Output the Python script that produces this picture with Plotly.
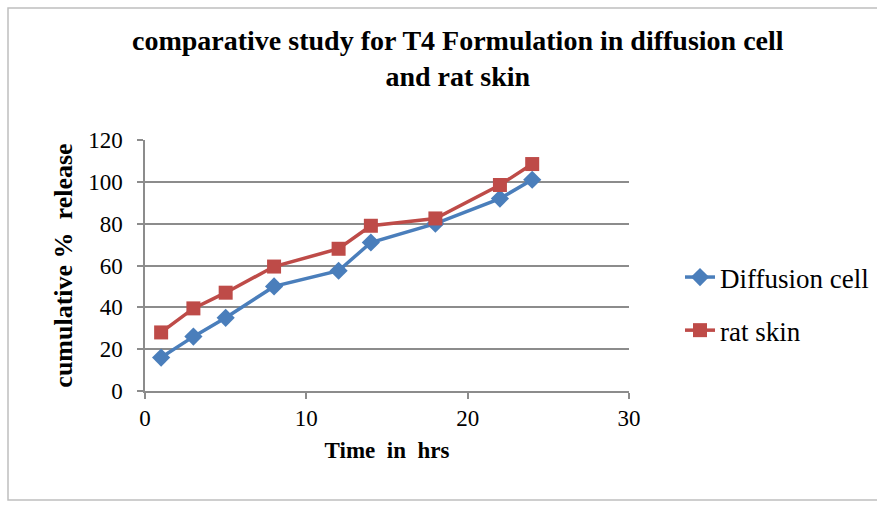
import plotly.graph_objects as go

time_hrs = [1, 3, 5, 8, 12, 14, 18, 22, 24]
diffusion_cell = [16, 26, 35, 50, 57.5, 71, 80, 92, 101]
rat_skin = [28, 39.5, 47, 59.5, 68, 79, 82.5, 98.5, 108.5]
x_ticks = [0, 10, 20, 30]
y_ticks = [0, 20, 40, 60, 80, 100, 120]

W, H = 877, 508
L, R, T, B = 145, 629, 140, 391
pw, ph = R - L, B - T

def px(x):
    return (x - L) / pw

def py(y):
    return (B - y) / ph

fig = go.Figure()
fig.add_trace(go.Scatter(
    x=time_hrs, y=diffusion_cell, name="Diffusion cell", mode="lines+markers",
    line=dict(color="#4a7ebb", width=3.5),
    marker=dict(symbol="diamond", size=14, color="#4a7ebb"),
    legendgroup="a"))
fig.add_trace(go.Scatter(
    x=time_hrs, y=rat_skin, name="rat skin", mode="lines+markers",
    line=dict(color="#be4b48", width=3.5),
    marker=dict(symbol="square", size=14, color="#be4b48"),
    legendgroup="b"))

font = "Liberation Serif, Times New Roman, serif"

fig.update_layout(
    width=W, height=H,
    margin=dict(l=L, r=W - R, t=T, b=H - B, autoexpand=False),
    paper_bgcolor="white", plot_bgcolor="white",
    font=dict(family=font, color="black", size=22),
    title=dict(
        text="<b>comparative study for T4 Formulation in diffusion cell<br>and rat skin</b>",
        x=0.522, xanchor="center", y=1 - 50 / H, yanchor="top",
        font=dict(family=font, size=28, color="black")),
    showlegend=True,
    legend=dict(x=px(680), y=py(253), xanchor="left", yanchor="top",
                font=dict(family=font, size=27, color="black"),
                tracegroupgap=15, bgcolor="rgba(0,0,0,0)"),
    xaxis=dict(
        range=[0, 30], tickvals=x_ticks, showgrid=False, zeroline=False,
        showline=True, linecolor="#8c8c8c", linewidth=1.5,
        ticks="outside", ticklen=6, tickcolor="#8c8c8c", tickwidth=1.5,
        tickfont=dict(size=23),
        title=dict(text="<b>Time  in  hrs</b>", font=dict(size=23), standoff=12)),
    yaxis=dict(
        range=[0, 120], tickvals=y_ticks, showgrid=True, gridcolor="#8c8c8c",
        gridwidth=1.5, zeroline=False,
        showline=True, linecolor="#8c8c8c", linewidth=1.5,
        ticks="outside", ticklen=6, tickcolor="#8c8c8c", tickwidth=1.5,
        tickfont=dict(size=23), ticklabelstandoff=10,
        title=dict(text="<b>cumulative %  release</b>", font=dict(size=26), standoff=8)),
)

fig.add_shape(type="rect", xref="paper", yref="paper",
              x0=px(8), x1=px(885), y0=py(500), y1=py(8),
              line=dict(color="#bfbfbf", width=1.5), layer="below")

fig.write_html("out.html")
